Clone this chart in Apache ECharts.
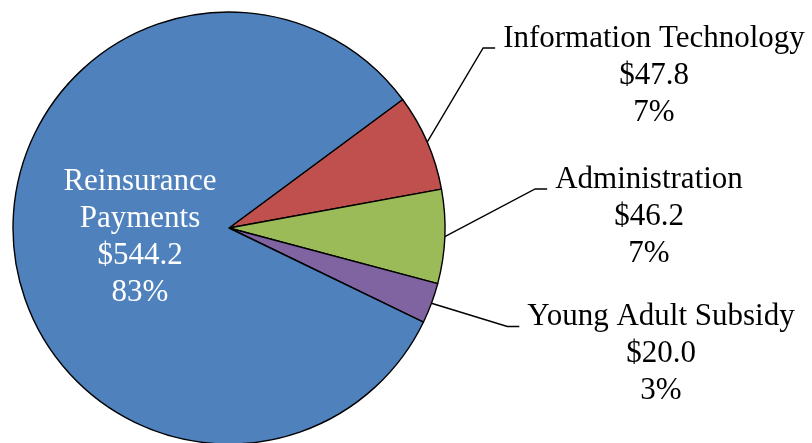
<!DOCTYPE html>
<html>
<head>
<meta charset="utf-8">
<script src="https://cdn.jsdelivr.net/npm/echarts@6/dist/echarts.min.js"></script>
<style>
html,body{margin:0;padding:0;background:#fff;}
#chart{width:812px;height:443px;}
</style>
</head>
<body>
<div id="chart"></div>
<script>
// ---- data ----
const categories = ['Information Technology', 'Administration', 'Young Adult Subsidy', 'Reinsurance\nPayments'];
const values = [47.8, 46.2, 20.0, 544.2];
const colors = ['#C0504D', '#9BBB59', '#8064A2', '#4F81BD'];
// label anchor (centre x, top y) for each category's text block
const labelAnchors = [[654, 20], [649, 161], [661, 298.5], [140, 163]];

const chart = echarts.init(document.getElementById('chart'), null, {renderer: 'canvas'});

const data = categories.map((name, i) => {
  const item = {name: name, value: values[i], itemStyle: {color: colors[i]}};
  if (i === 3) {
    item.label = {color: '#ffffff', position: 'inside'};
    item.labelLine = {show: false};
  }
  return item;
});

chart.setOption({
  animation: false,
  backgroundColor: '#ffffff',
  series: [{
    type: 'pie',
    center: [229, 228],
    radius: 216,
    startAngle: 36.5,
    clockwise: true,
    avoidLabelOverlap: false,
    data: data,
    itemStyle: {borderColor: '#000000', borderWidth: 1.4},
    emphasis: {disabled: true},
    label: {
      show: true,
      position: 'outside',
      fontFamily: 'Liberation Serif',
      fontSize: 31,
      lineHeight: 37,
      color: '#000000',
      align: 'center',
      formatter: function (p) {
        return p.name + '\n$' + p.value.toFixed(1) + '\n' + Math.round(p.percent) + '%';
      }
    },
    labelLine: {
      show: true,
      smooth: false,
      length: 20,
      length2: 12,
      lineStyle: {color: '#000000', width: 1.4}
    },
    labelLayout: function (params) {
      const a = labelAnchors[params.dataIndex];
      const res = {x: a[0], y: a[1], align: 'center', verticalAlign: 'top'};
      if (params.labelLinePoints && params.dataIndex !== 3) {
        const w = params.labelRect.width;
        const left = a[0] - w / 2;
        const p0 = params.labelLinePoints[0];
        const endY = a[1] + 28;
        const endX = left - 8;
        res.labelLinePoints = [[p0[0], p0[1]], [endX - 12, endY], [endX, endY]];
      }
      return res;
    }
  }]
});
</script>
</body>
</html>
